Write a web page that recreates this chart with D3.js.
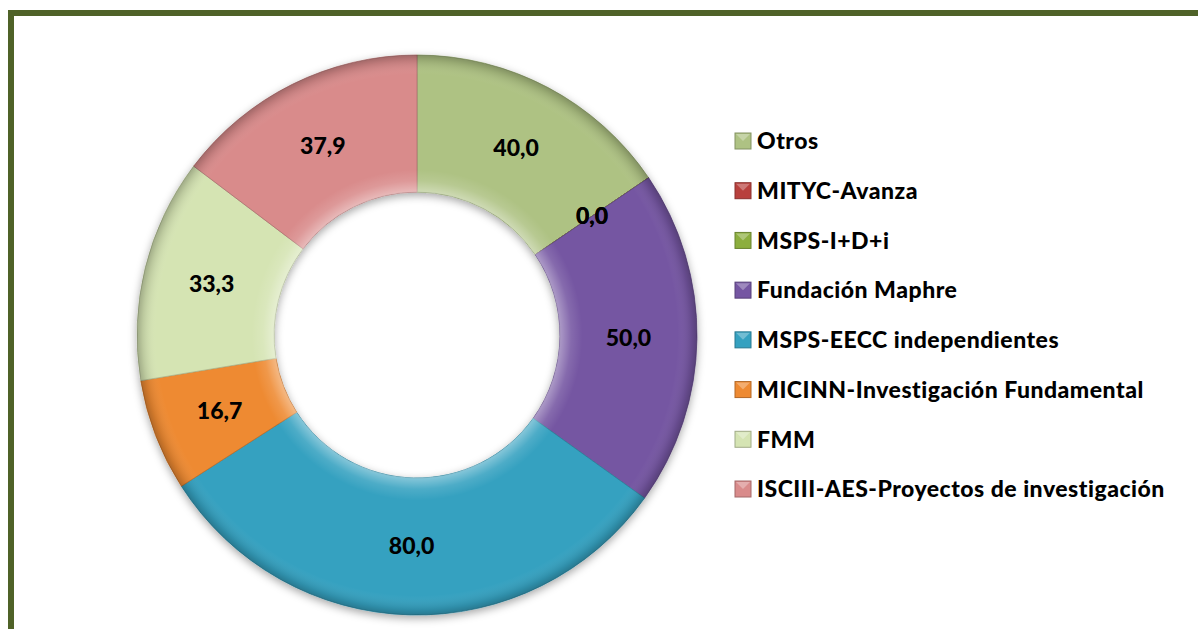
<!DOCTYPE html>
<html>
<head>
<meta charset="utf-8">
<script src="https://cdn.jsdelivr.net/npm/d3@7"></script>
<style>
  body { margin: 0; background: #fff; }
  svg text { font-family: Lato, "Open Sans", sans-serif; font-weight: 900; fill: #000; }
</style>
</head>
<body>
<div id="chart"></div>
<script>
var categories = ["Otros", "MITYC-Avanza", "MSPS-I+D+i", "Fundación Maphre",
                  "MSPS-EECC independientes", "MICINN-Investigación Fundamental",
                  "FMM", "ISCIII-AES-Proyectos de investigación"];
var values = [40.0, 0.0, 0.0, 50.0, 80.0, 16.7, 33.3, 37.9];
var colors = ["#aec283", "#b8403d", "#8cae3e", "#7556a2", "#35a1c0", "#ee8a32", "#d5e4b3", "#d98b8b"];

var width = 1198, height = 629,
    cx = 417, cy = 335,
    outerR = 280, innerR = 143;

var svg = d3.select("#chart").append("svg")
    .attr("width", width)
    .attr("height", height);

var defs = svg.append("defs");

var shadow = defs.append("filter").attr("id", "shadow")
    .attr("x", "-10%").attr("y", "-10%").attr("width", "120%").attr("height", "120%");
shadow.append("feDropShadow")
    .attr("dx", 0).attr("dy", 3).attr("stdDeviation", 4)
    .attr("flood-color", "#000").attr("flood-opacity", 0.35);

// bevel look: light near the ring edges, darker toward the outside
var bevel = defs.append("radialGradient").attr("id", "bevel")
    .attr("gradientUnits", "userSpaceOnUse")
    .attr("cx", 0).attr("cy", 0).attr("r", outerR);
var k = innerR / outerR;
[[0, 0], [k, 0.4], [k + 0.04, 0.12], [k + 0.08, 0], [0.93, 0], [0.98, 0.12], [1, 0.25]].forEach(function(s, i) {
    bevel.append("stop").attr("offset", s[0])
        .attr("stop-color", i >= 5 ? "#000" : "#fff")
        .attr("stop-opacity", s[1]);
});

// border frame
svg.append("rect")
    .attr("x", 11).attr("y", 13)
    .attr("width", width + 20).attr("height", height + 20)
    .attr("fill", "none")
    .attr("stroke", "#4f6228")
    .attr("stroke-width", 6);

var pie = d3.pie().sort(null).value(function(d) { return d; });
var arcs = pie(values);
var arc = d3.arc().innerRadius(innerR).outerRadius(outerR);
var labelArc = d3.arc().innerRadius((innerR + outerR) / 2).outerRadius((innerR + outerR) / 2);

var g = svg.append("g").attr("transform", "translate(" + cx + "," + cy + ")");

var ring = g.append("g").attr("filter", "url(#shadow)");
ring.selectAll("path.slice")
    .data(arcs)
    .enter().append("path")
    .attr("class", "slice")
    .attr("d", arc)
    .attr("fill", function(d, i) { return colors[i]; })
    .attr("stroke", function(d, i) { return d3.color(colors[i]).darker(0.6); })
    .attr("stroke-width", 0.8);

g.append("path")
    .attr("d", d3.arc().innerRadius(innerR).outerRadius(outerR).startAngle(0).endAngle(2 * Math.PI))
    .attr("fill", "url(#bevel)")
    .attr("pointer-events", "none");

g.selectAll("text.val")
    .data(arcs)
    .enter().append("text")
    .attr("class", "val")
    .attr("transform", function(d) { return "translate(" + labelArc.centroid(d) + ")"; })
    .attr("text-anchor", "middle")
    .attr("dy", "0.35em")
    .style("font-size", "23px")
    .text(function(d) { return d3.format(".1f")(d.value).replace(".", ","); });

// legend
var ly = d3.scalePoint().domain(categories).range([141, 489]);

var legend = svg.append("g");
var item = legend.selectAll("g.item")
    .data(categories)
    .enter().append("g")
    .attr("class", "item")
    .attr("transform", function(d) { return "translate(735," + ly(d) + ")"; });

item.append("rect")
    .attr("x", 0).attr("y", -8)
    .attr("width", 16).attr("height", 16)
    .attr("fill", function(d, i) { return colors[i]; })
    .attr("stroke", function(d, i) { return d3.color(colors[i]).darker(0.8); })
    .attr("stroke-width", 1);

item.append("path")
    .attr("d", "M1,-7 L15,-7 L8,0 Z")
    .attr("fill", "#fff")
    .attr("fill-opacity", 0.3);

item.append("text")
    .attr("x", 22)
    .attr("dy", "0.36em")
    .style("font-size", "23px")
    .style("letter-spacing", "0.5px")
    .text(function(d) { return d; });
</script>
</body>
</html>
